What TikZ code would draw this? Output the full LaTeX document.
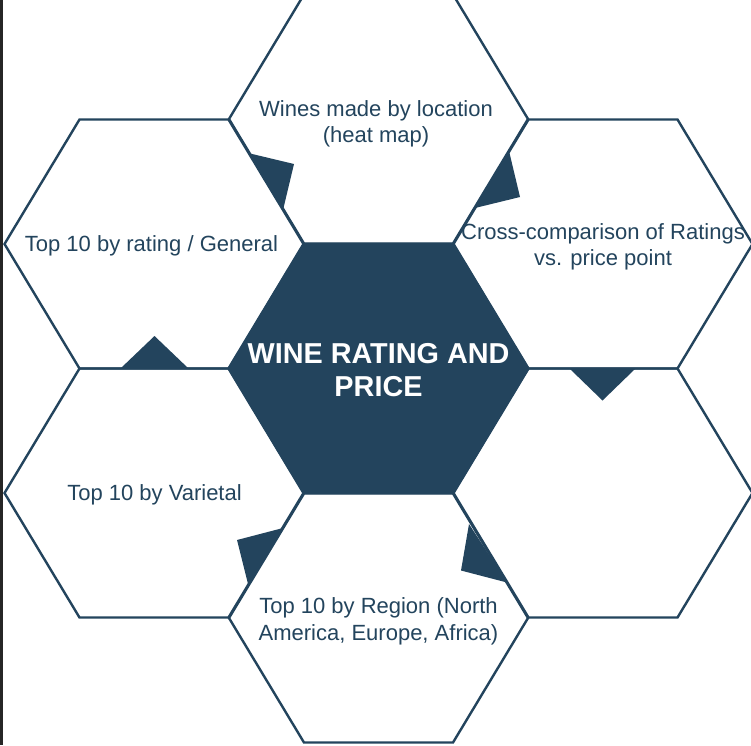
\documentclass[tikz,border=0pt]{standalone}
\usepackage{fontspec}
\setmainfont{Liberation Sans}
\definecolor{hexblue}{HTML}{23445D}
\definecolor{barcol}{HTML}{262626}
\tikzset{
  hexagon/.pic={\path[pic actions] (-149.5,0) -- (-74.5,-124.5) -- (74.5,-124.5) -- (149.5,0) -- (74.5,124.5) -- (-74.5,124.5) -- cycle;},
  hexline/.style={draw=hexblue, line width=2.4pt, line join=miter},
  hexcore/.style={draw=hexblue, fill=hexblue, line width=2.4pt},
  notch/.style={fill=hexblue},
  lbl/.style={text=hexblue, align=center, inner sep=0pt, font=\fontsize{22}{26.5}\selectfont},
  corelbl/.style={text=white, align=center, inner sep=0pt, font=\fontsize{28.8}{33}\selectfont\bfseries}
}
\begin{document}
\begin{tikzpicture}[x=1pt, y=-1pt]
\useasboundingbox (0,0) rectangle (751,745);
\fill[white] (0,0) rectangle (751,745);
\fill[barcol] (0,0) rectangle (3,745);
% outer hexagons
\pic[hexline] at (378.5,119) {hexagon};
\pic[hexline] at (154,244) {hexagon};
\pic[hexline] at (603,244) {hexagon};
\pic[hexline] at (154,493) {hexagon};
\pic[hexline] at (603,493) {hexagon};
\pic[hexline] at (378.5,618) {hexagon};
% centre hexagon
\pic[hexcore] at (378.5,368.5) {hexagon};
% notches
\fill[notch] (248,153) -- (294,164) -- (283,210) -- cycle;
\fill[notch] (509,151) -- (520,197) -- (475,208) -- cycle;
\fill[notch] (570,369) -- (635,369) -- (602.5,400.5) -- cycle;
\fill[notch] (469,524) -- (461,570.5) -- (507,582.5) -- cycle;
\fill[notch] (283,528) -- (237,540) -- (248,584) -- cycle;
\fill[notch] (121,368) -- (188,368) -- (154.5,336) -- cycle;
% labels
\node[lbl] (top) at (376,124) {Wines made by location\\(heat map)};
\node[lbl] (ul) at (151.5,246) {Top 10 by rating / General};
\node[lbl] (ur) at (603,247) {Cross-comparison of Ratings\\vs. price point};
\node[corelbl] (core) at (378.5,370.5) {WINE RATING AND\\PRICE};
\node[lbl] (ll) at (154.5,495) {Top 10 by Varietal};
\node[lbl] (bot) at (378.5,621.5) {Top 10 by Region (North\\America, Europe, Africa)};
\end{tikzpicture}
\end{document}
